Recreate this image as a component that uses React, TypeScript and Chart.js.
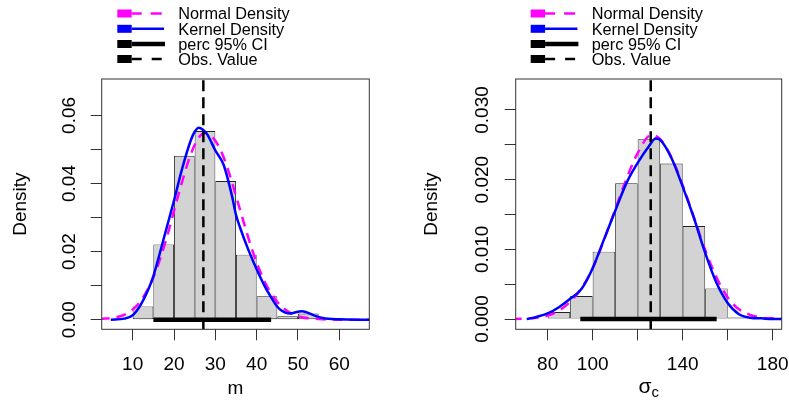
import React, { useEffect, useRef } from "react";
import { Chart, registerables } from "chart.js";

Chart.register(...registerables);

const FAMILY = '"Liberation Sans", Arial, Helvetica, sans-serif';

// ---------- Left panel: m ----------
const mBinEdges = [10, 15, 20, 25, 30, 35, 40, 45, 50, 55];
const mBinDensity = [0.0039, 0.0221, 0.0481, 0.0554, 0.0407, 0.0191, 0.0069, 0.001, 0.0018];
const mKernelX = [4.7, 8, 10, 12, 14, 15, 16, 17, 18, 20, 22, 24, 25, 26, 27, 28, 30, 32, 34, 35, 36, 38, 40, 42, 44, 45, 46, 48, 50, 51, 52, 54, 56, 60, 64, 68];
const mKernelY = [0, 0.0003, 0.0013, 0.0045, 0.0095, 0.0128, 0.017, 0.0215, 0.026, 0.035, 0.0445, 0.0525, 0.0552, 0.0564, 0.0558, 0.0545, 0.0497, 0.0455, 0.0365, 0.0308, 0.027, 0.0205, 0.0148, 0.0097, 0.0056, 0.0038, 0.0027, 0.0018, 0.0023, 0.0025, 0.0022, 0.0012, 0.0005, 0.0001, 0, 0];
const mNormalX = [2, 6, 9, 12, 15, 18, 21, 24, 26, 27.6, 29, 31, 33, 36, 39, 42, 45, 48, 51, 55, 60, 68];
const mNormalY = [0.0002, 0.0007, 0.0021, 0.0056, 0.0124, 0.0231, 0.0364, 0.0484, 0.0535, 0.0548, 0.054, 0.0505, 0.0443, 0.0322, 0.0202, 0.011, 0.0052, 0.0021, 0.0007, 0.0002, 0, 0];
const mCI = [15.0, 43.5];
const mObs = 27.1;
const mXRange = [2.5, 67.26];
const mYRange = [-0.00283, 0.0707];
const mXTicks = [10, 20, 30, 40, 50, 60];
const mXTickLabels = ["10", "20", "30", "40", "50", "60"];
const mYTicks = [0, 0.01, 0.02, 0.03, 0.04, 0.05, 0.06];
const mYTickLabels = ["0.00", "", "0.02", "", "0.04", "", "0.06"];

// ---------- Right panel: sigma_c ----------
const sBinEdges = [80, 90, 100, 110, 120, 130, 140, 150, 160, 170];
const sBinDensity = [0.001, 0.0033, 0.00967, 0.0195, 0.0258, 0.0223, 0.01335, 0.0044, 0.00024];
const sKernelX = [70.7, 75, 80, 85, 90, 95, 100, 105, 110, 115, 120, 125, 128, 130, 135, 140, 145, 150, 155, 160, 165, 170, 175, 180, 186];
const sKernelY = [0, 0.0003, 0.0008, 0.0017, 0.0029, 0.0043, 0.0073, 0.0114, 0.0155, 0.0195, 0.0224, 0.0248, 0.0259, 0.0257, 0.0231, 0.019, 0.0145, 0.0095, 0.0052, 0.0023, 0.0007, 0.0002, 0.0001, 0, 0];
const sNormalX = [64, 75, 80, 85, 90, 95, 100, 105, 110, 115, 120, 126, 130, 135, 140, 145, 150, 155, 160, 165, 170, 175, 180, 186];
const sNormalY = [0, 0.0002, 0.0005, 0.0012, 0.0025, 0.0044, 0.0073, 0.0113, 0.0157, 0.0201, 0.0238, 0.0264, 0.0258, 0.0232, 0.0192, 0.0146, 0.0099, 0.006, 0.0031, 0.0014, 0.0006, 0.0002, 0.0001, 0];
const sCI = [94.5, 155.1];
const sObs = 125.8;
const sXRange = [65.8, 184.0];
const sYRange = [-0.00147, 0.03444];
const sXTicks = [80, 100, 120, 140, 160, 180];
const sXTickLabels = ["80", "100", "", "140", "", "180"];
const sYTicks = [0, 0.005, 0.01, 0.015, 0.02, 0.025, 0.03];
const sYTickLabels = ["0.000", "", "0.010", "", "0.020", "", "0.030"];

const legendLabels = ["Normal Density", "Kernel Density", "perc 95% CI", "Obs. Value"];

type Spec = {
  binEdges: number[];
  binDensity: number[];
  kernelX: number[];
  kernelY: number[];
  normalX: number[];
  normalY: number[];
  ci: number[];
  obs: number;
  xRange: number[];
  yRange: number[];
  xTicks: number[];
  xTickLabels: string[];
  yTicks: number[];
  yTickLabels: string[];
  xTitle: string;
  xSub?: string;
};

type Geo = {
  canvasW: number;
  yAxisW: number;
  padRight: number;
  yLabelX: number;
  yTitlePad: number;
  legendX: number;
};

const xy = (xs: number[], ys: number[]) => xs.map((x, i) => ({ x, y: ys[i] }));

function Panel({ spec, geo, pageX }: { spec: Spec; geo: Geo; pageX: number }) {
  const ref = useRef<HTMLCanvasElement | null>(null);
  useEffect(() => {
    const canvas = ref.current;
    if (!canvas) return;
    const centers = spec.binDensity.map((_, i) => (spec.binEdges[i] + spec.binEdges[i + 1]) / 2);

    const deco = {
      id: "rdeco",
      afterDraw(chart: any) {
        const ctx = chart.ctx as CanvasRenderingContext2D;
        const { left, top, right, bottom } = chart.chartArea;
        ctx.save();
        // box
        ctx.strokeStyle = "#333";
        ctx.lineWidth = 1;
        ctx.setLineDash([]);
        ctx.strokeRect(left, top, right - left, bottom - top);
        // y tick labels (rotated, like R)
        const ys = chart.scales.y;
        ctx.fillStyle = "#000";
        ctx.font = `19px ${FAMILY}`;
        ctx.textAlign = "center";
        ctx.textBaseline = "alphabetic";
        spec.yTicks.forEach((v, i) => {
          const lab = spec.yTickLabels[i];
          if (!lab) return;
          const py = ys.getPixelForValue(v);
          ctx.save();
          ctx.translate(geo.yLabelX, py);
          ctx.rotate(-Math.PI / 2);
          ctx.fillText(lab, 0, 0);
          ctx.restore();
        });
        // x title with subscript
        if (spec.xSub) {
          const cx = (left + right) / 2;
          ctx.font = `21px ${FAMILY}`;
          const w1 = ctx.measureText(spec.xTitle).width;
          ctx.font = `15px ${FAMILY}`;
          const w2 = ctx.measureText(spec.xSub).width;
          const x0 = cx - (w1 + w2) / 2;
          ctx.textAlign = "left";
          ctx.font = `21px ${FAMILY}`;
          ctx.fillText(spec.xTitle, x0, 393);
          ctx.font = `15px ${FAMILY}`;
          ctx.fillText(spec.xSub, x0 + w1, 397);
        }
        // legend
        const lx = geo.legendX;
        const rows = [13.5, 28.8, 44, 59];
        const styles = [
          { color: "#FF00FF", w: 2.5, segs: [[14.4, 24.4], [33.4, 44.4]] },
          { color: "#0000FF", w: 2.5, segs: [[14.4, 46.7]] },
          { color: "#000000", w: 4.5, segs: [[14.4, 47.7]] },
          { color: "#000000", w: 2.5, segs: [[14.4, 24.4], [34.4, 44.4]] },
        ];
        legendLabels.forEach((lab, i) => {
          const cy = rows[i];
          const st = styles[i];
          ctx.fillStyle = st.color;
          ctx.fillRect(lx, cy - 4, 14.4, 8);
          ctx.strokeStyle = st.color;
          ctx.lineWidth = st.w;
          ctx.lineCap = "butt";
          st.segs.forEach(([a, b]) => {
            ctx.beginPath();
            ctx.moveTo(lx + a, cy);
            ctx.lineTo(lx + b, cy);
            ctx.stroke();
          });
          ctx.fillStyle = "#000";
          ctx.font = `16.3px ${FAMILY}`;
          ctx.textAlign = "left";
          ctx.textBaseline = "alphabetic";
          ctx.fillText(lab, lx + 61, cy + 5.8);
        });
        ctx.restore();
      },
    };

    const gridOpts = {
      display: true,
      drawOnChartArea: false,
      drawTicks: true,
      tickLength: 11,
      tickColor: "#333",
      lineWidth: 1,
      offset: false,
    };

    const chart = new Chart(canvas, {
      type: "bar",
      data: {
        datasets: [
          {
            type: "line",
            label: legendLabels[3],
            data: [
              { x: spec.obs, y: spec.yRange[0] },
              { x: spec.obs, y: spec.yRange[1] },
            ],
            borderColor: "#000",
            borderWidth: 2.5,
            borderDash: [11, 6],
            pointRadius: 0,
            order: 0,
          },
          {
            type: "line",
            label: legendLabels[2],
            data: [
              { x: spec.ci[0], y: 0 },
              { x: spec.ci[1], y: 0 },
            ],
            borderColor: "#000",
            borderWidth: 4.5,
            borderCapStyle: "butt",
            pointRadius: 0,
            order: 1,
          },
          {
            type: "line",
            label: legendLabels[1],
            data: xy(spec.kernelX, spec.kernelY),
            borderColor: "#0000FF",
            borderWidth: 2.5,
            pointRadius: 0,
            cubicInterpolationMode: "monotone",
            order: 2,
          },
          {
            type: "line",
            label: legendLabels[0],
            data: xy(spec.normalX, spec.normalY),
            borderColor: "#FF00FF",
            borderWidth: 2.5,
            borderDash: [10, 7],
            pointRadius: 0,
            cubicInterpolationMode: "monotone",
            order: 3,
          },
          {
            type: "bar",
            label: "Histogram",
            data: xy(centers, spec.binDensity),
            backgroundColor: "#D3D3D3",
            borderColor: "#222",
            borderWidth: 0.9,
            borderSkipped: false,
            inflateAmount: 0,
            barPercentage: 1,
            categoryPercentage: 1,
            order: 4,
          },
        ] as any,
      },
      options: {
        responsive: false,
        animation: false,
        events: [],
        layout: { padding: { top: 79, right: geo.padRight, left: 0, bottom: 0 } },
        plugins: {
          legend: { display: false },
          tooltip: { enabled: false },
          title: { display: false },
        },
        scales: {
          x: {
            type: "linear",
            min: spec.xRange[0],
            max: spec.xRange[1],
            offset: false,
            afterBuildTicks: (s: any) => {
              s.ticks = spec.xTicks.map((v) => ({ value: v }));
            },
            afterFit: (s: any) => {
              s.height = 400 - 329.3;
              s.paddingLeft = 0;
              s.paddingRight = 0;
            },
            grid: gridOpts,
            border: { display: false },
            ticks: {
              autoSkip: false,
              maxRotation: 0,
              minRotation: 0,
              padding: 13,
              color: "#000",
              font: { family: FAMILY, size: 19 },
              callback: (_v: any, i: number) => spec.xTickLabels[i],
            },
            title: {
              display: !spec.xSub,
              text: spec.xTitle,
              color: "#000",
              font: { family: FAMILY, size: 19 },
              padding: { top: 0, bottom: 0 },
            },
          },
          y: {
            type: "linear",
            min: spec.yRange[0],
            max: spec.yRange[1],
            afterBuildTicks: (s: any) => {
              s.ticks = spec.yTicks.map((v) => ({ value: v }));
            },
            afterFit: (s: any) => {
              s.width = geo.yAxisW;
              s.paddingTop = 0;
              s.paddingBottom = 0;
            },
            grid: gridOpts,
            border: { display: false },
            ticks: { display: false },
            title: {
              display: true,
              text: "Density",
              color: "#000",
              font: { family: FAMILY, size: 19 },
              padding: { top: geo.yTitlePad, bottom: 0 },
            },
          },
        },
      } as any,
      plugins: [deco],
    });
    return () => chart.destroy();
  }, [spec, geo]);

  return (
    <canvas
      ref={ref}
      width={geo.canvasW}
      height={400}
      style={{ position: "absolute", left: pageX, top: 0, width: geo.canvasW, height: 400 }}
    />
  );
}

const leftSpec: Spec = {
  binEdges: mBinEdges,
  binDensity: mBinDensity,
  kernelX: mKernelX,
  kernelY: mKernelY,
  normalX: mNormalX,
  normalY: mNormalY,
  ci: mCI,
  obs: mObs,
  xRange: mXRange,
  yRange: mYRange,
  xTicks: mXTicks,
  xTickLabels: mXTickLabels,
  yTicks: mYTicks,
  yTickLabels: mYTickLabels,
  xTitle: "m",
};

const rightSpec: Spec = {
  binEdges: sBinEdges,
  binDensity: sBinDensity,
  kernelX: sKernelX,
  kernelY: sKernelY,
  normalX: sNormalX,
  normalY: sNormalY,
  ci: sCI,
  obs: sObs,
  xRange: sXRange,
  yRange: sYRange,
  xTicks: sXTicks,
  xTickLabels: sXTickLabels,
  yTicks: sYTicks,
  yTickLabels: sYTickLabels,
  xTitle: "σ",
  xSub: "c",
};

const leftGeo: Geo = { canvasW: 395, yAxisW: 101.7, padRight: 25.7, yLabelX: 75, yTitlePad: 9.3, legendX: 117.3 };
const rightGeo: Geo = { canvasW: 394, yAxisW: 120.7, padRight: 7.3, yLabelX: 93.3, yTitlePad: 25, legendX: 135.7 };

export default function App() {
  return (
    <div style={{ position: "fixed", left: 0, top: 0, width: 789, height: 400, background: "#fff", overflow: "hidden" }}>
      <Panel spec={leftSpec} geo={leftGeo} pageX={0} />
      <Panel spec={rightSpec} geo={rightGeo} pageX={395} />
    </div>
  );
}
